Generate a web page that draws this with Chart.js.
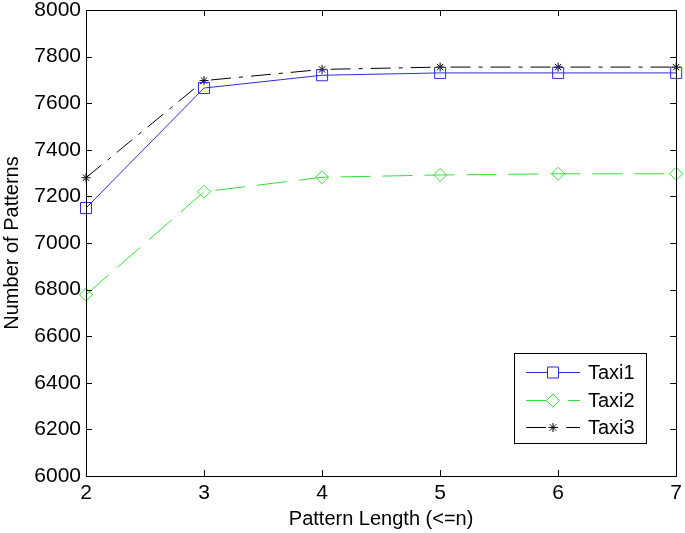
<!DOCTYPE html>
<html>
<head>
<meta charset="utf-8">
<script src="https://cdn.jsdelivr.net/npm/chart.js@4/dist/chart.umd.min.js"></script>
<style>
  html, body { margin: 0; padding: 0; background: #fff; }
  #wrap { width: 685px; height: 533px; }
</style>
</head>
<body>
<div id="wrap"><canvas id="chart" width="685" height="533"></canvas></div>
<script>
// Pattern length on the x axis
const lengths = ["2", "3", "4", "5", "6", "7"];

// Number of patterns for each taxi
const taxi1 = [7150, 7665, 7720, 7730, 7730, 7730];
const taxi2 = [6778, 7220, 7282, 7292, 7297, 7297];
const taxi3 = [7280, 7697, 7745, 7755, 7755, 7755];

const yTicks = [6000, 6200, 6400, 6600, 6800, 7000, 7200, 7400, 7600, 7800, 8000];

const FONT = "'Liberation Sans', Arial, Helvetica, sans-serif";

const series = [
  { label: "Taxi1", data: taxi1, color: "#2b2bdd", dash: [], point: "rect", radius: 7.8 },
  { label: "Taxi2", data: taxi2, color: "#33e033", dash: [30, 12], point: "rectRot", radius: 6.5 },
  { label: "Taxi3", data: taxi3, color: "#000000", dash: [20, 8, 4, 8], point: "star", radius: 4.5 }
];

// Matlab style box: inward ticks on all four sides + legend inside the axes
const boxPlugin = {
  id: "boxPlugin",
  afterDraw(chart) {
    const ctx = chart.ctx;
    const a = chart.chartArea;
    const xs = chart.scales.x;
    const ys = chart.scales.y;
    const len = 6;
    ctx.save();
    ctx.strokeStyle = "#000";
    ctx.lineWidth = 1;
    ctx.setLineDash([]);
    ctx.strokeRect(Math.round(a.left) + 0.5, Math.round(a.top) + 0.5,
      Math.round(a.right - a.left), Math.round(a.bottom - a.top));
    ctx.beginPath();
    xs.ticks.forEach((t, i) => {
      const px = Math.round(xs.getPixelForTick(i)) + 0.5;
      ctx.moveTo(px, a.bottom); ctx.lineTo(px, a.bottom - len);
      ctx.moveTo(px, a.top); ctx.lineTo(px, a.top + len);
    });
    ys.ticks.forEach(t => {
      const py = Math.round(ys.getPixelForValue(t.value)) + 0.5;
      ctx.moveTo(a.left, py); ctx.lineTo(a.left + len, py);
      ctx.moveTo(a.right, py); ctx.lineTo(a.right - len, py);
    });
    ctx.stroke();

    // legend box
    const lx = 514, ly = 353, lw = 132, lh = 90;
    ctx.fillStyle = "#fff";
    ctx.fillRect(lx, ly, lw, lh);
    ctx.strokeRect(lx + 0.5, ly + 0.5, lw, lh);
    const rows = [372, 400, 427];
    chart.data.datasets.forEach((ds, i) => {
      const y = rows[i] + 0.5;
      ctx.strokeStyle = ds.borderColor;
      ctx.setLineDash(ds.borderDash || []);
      ctx.beginPath();
      ctx.moveTo(526, y);
      ctx.lineTo(580, y);
      ctx.stroke();
      ctx.setLineDash([]);
      ctx.fillStyle = "#fff";
      Chart.helpers.drawPoint(ctx, {
        pointStyle: ds.pointStyle,
        radius: ds.pointRadius,
        borderWidth: 1,
        rotation: 0
      }, 553, y);
      ctx.fillStyle = "#000";
      ctx.font = "20px " + FONT;
      ctx.textBaseline = "middle";
      ctx.textAlign = "left";
      ctx.fillText(ds.label, 588, rows[i] + 1);
    });
    ctx.restore();
  }
};

new Chart(document.getElementById("chart"), {
  type: "line",
  data: {
    labels: lengths,
    datasets: series.map(s => ({
      label: s.label,
      data: s.data,
      borderColor: s.color,
      backgroundColor: "rgba(0,0,0,0)",
      borderWidth: 1,
      borderDash: s.dash,
      pointStyle: s.point,
      pointRadius: s.radius,
      pointBorderColor: s.color,
      pointBackgroundColor: "rgba(0,0,0,0)",
      pointBorderWidth: 1,
      tension: 0,
      fill: false
    }))
  },
  options: {
    responsive: false,
    animation: false,
    layout: { padding: { top: 10, right: 7, left: 0, bottom: 0 } },
    plugins: {
      legend: { display: false },
      tooltip: { enabled: false }
    },
    scales: {
      x: {
        type: "category",
        offset: false,
        grid: { display: false, drawTicks: false },
        border: { display: false },
        ticks: { color: "#000", font: { family: FONT, size: 21 }, padding: 5, maxRotation: 0 },
        title: {
          display: true,
          text: "Pattern Length (<=n)",
          color: "#000",
          font: { family: FONT, size: 20 },
          padding: { top: 2, bottom: 2 }
        },
        afterFit(scale) {
          scale.height = 57;
          scale.paddingLeft = 0;
          scale.paddingRight = 0;
        }
      },
      y: {
        min: 6000,
        max: 8000,
        afterBuildTicks(scale) { scale.ticks = yTicks.map(v => ({ value: v })); },
        grid: { display: false, drawTicks: false },
        border: { display: false },
        ticks: {
          color: "#000",
          font: { family: FONT, size: 21 },
          padding: 5,
          callback: v => String(v)
        },
        title: {
          display: true,
          text: "Number of Patterns",
          color: "#000",
          font: { family: FONT, size: 20 },
          padding: { top: 0, bottom: 3 }
        },
        afterFit(scale) {
          scale.width = 86;
          scale.paddingTop = 0;
          scale.paddingBottom = 0;
        }
      }
    }
  },
  plugins: [boxPlugin]
});
</script>
</body>
</html>
